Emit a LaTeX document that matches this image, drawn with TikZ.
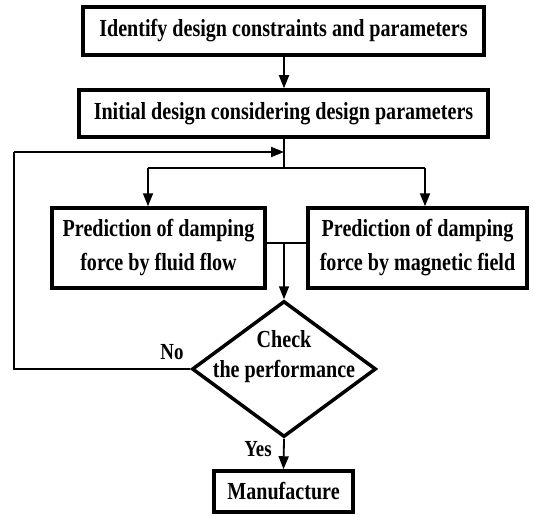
\documentclass[tikz,border=0pt]{standalone}
\usepackage{fontspec}
\setmainfont{Liberation Serif}[FakeStretch=0.82]
\usetikzlibrary{shapes.geometric,arrows.meta}
\begin{document}
\begin{tikzpicture}[x=1pt,y=1pt,
  boxstyle/.style={draw, line width=3.5pt, rectangle, inner sep=0pt, align=center, font=\fontsize{24.5}{34}\selectfont\bfseries},
  decstyle/.style={draw, line width=3.5pt, diamond, inner sep=0pt, minimum width=184pt, minimum height=136pt},
  dtext/.style={inner sep=0pt, align=center, font=\fontsize{24.5}{30}\selectfont\bfseries},
  conn/.style={line width=1.8pt},
  arr/.style={line width=1.8pt, -{Triangle[length=13pt,width=10pt]}},
  lbl/.style={font=\fontsize{23}{26}\selectfont\bfseries}]
\useasboundingbox (0,0) rectangle (534,-516);
\node[boxstyle, minimum width=401pt, minimum height=48pt] (b1) at (283.5,-31) {Identify design constraints and parameters};
\node[boxstyle, minimum width=409pt, minimum height=47pt] (b2) at (283.5,-113.5) {Initial design considering design parameters};
\node[boxstyle, minimum width=213pt, minimum height=80pt] (b3) at (158.5,-248) {Prediction of damping\\force by fluid flow};
\node[boxstyle, minimum width=219pt, minimum height=80pt] (b4) at (417.5,-248) {Prediction of damping\\force by magnetic field};
\node[decstyle] (d) at (284,-369) {};
\node[dtext] (dt) at (284,-357) {Check\\the performance};
\node[boxstyle, minimum width=139pt, minimum height=41pt] (m) at (283.5,-491.5) {Manufacture};
\coordinate (br) at (284,-168);
\coordinate (bl) at (148,-168);
\coordinate (brr) at (425,-168);
\coordinate (mid) at (284,-243);
\coordinate (fb) at (284,-152);
\coordinate (lb) at (14,-369);
\coordinate (lt) at (14,-152);
\draw[arr] (b1.south -| fb) -- (b2.north -| fb);
\draw[conn] (b2.south -| fb) -- (br);
\draw[conn] (bl) -- (brr);
\draw[arr] (bl) -- (bl |- b3.north);
\draw[arr] (brr) -- (brr |- b4.north);
\draw[conn] (b3.east |- mid) -- (b4.west |- mid);
\draw[arr] (mid) -- (d.north);
\draw[conn] (d.west) -- (lb) -- (lt);
\draw[arr] (lt) -- (fb);
\draw[arr] (d.south) -- (m.north);
\node[lbl] (no) at (172,-352) {No};
\node[lbl] (yes) at (258,-449) {Yes};
\end{tikzpicture}
\end{document}
